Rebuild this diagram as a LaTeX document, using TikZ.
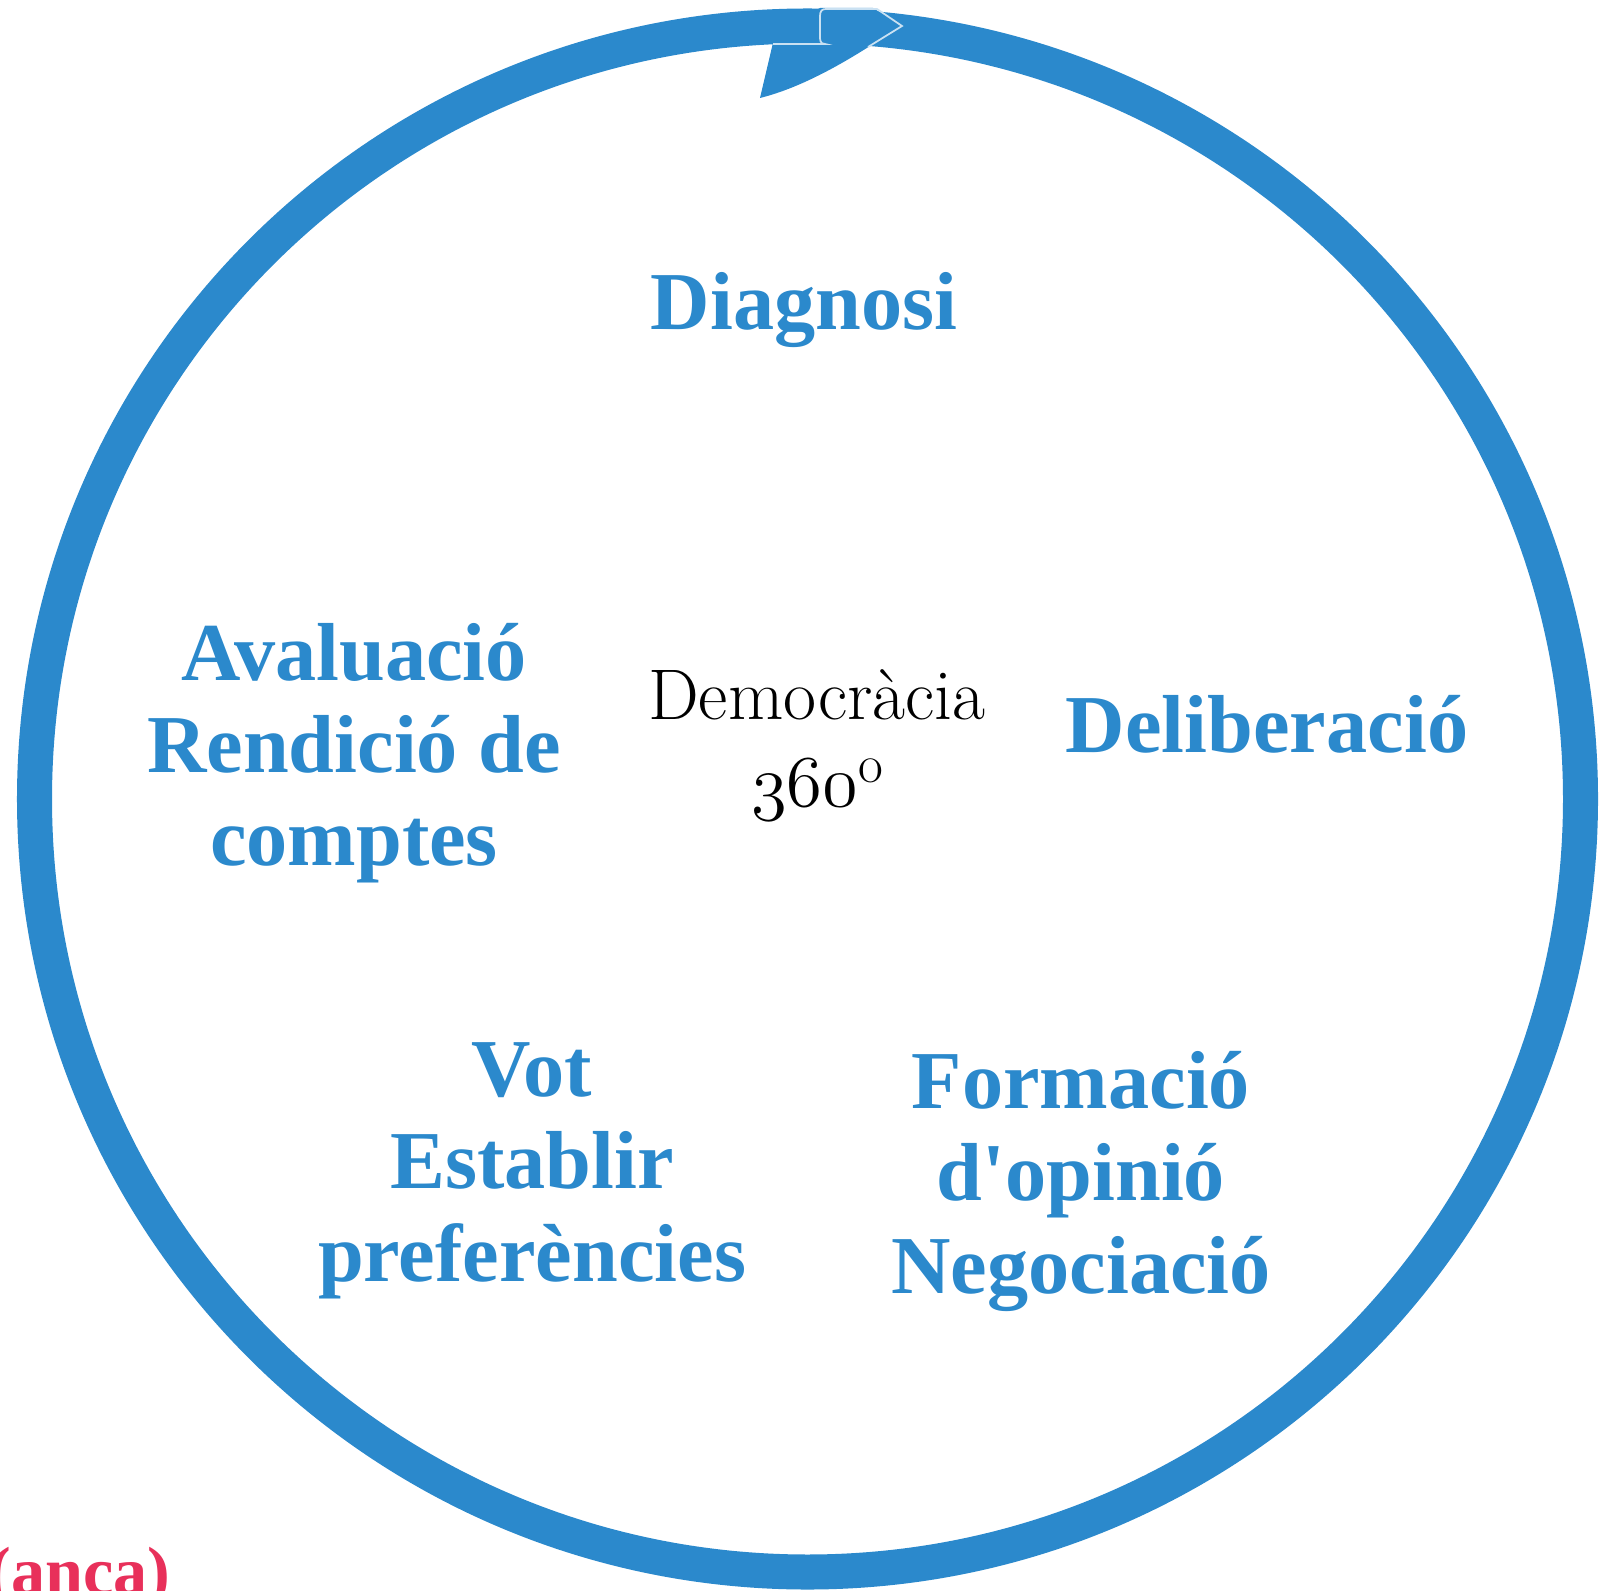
\documentclass[tikz,border=0pt]{standalone}
\usepackage{fontspec}
\newfontfamily\labelfont{Liberation Serif}
\definecolor{ringblue}{RGB}{43,137,204}
\definecolor{noteRed}{RGB}{232,48,90}
\begin{document}
\begin{tikzpicture}[x=0.01cm,y=-0.01cm,
		stage/.style={text=ringblue, font=\labelfont\bfseries\fontsize{23.4}{26.2}\selectfont, align=center, anchor=base, inner sep=0pt},
		centre/.style={text=black, font=\fontsize{20.4}{24.7}\selectfont, align=center, anchor=base, inner sep=0pt},
		edge/.style={draw=white!75!ringblue, line width=0.5pt}]
		\useasboundingbox (0,0) rectangle (1600,1591);

		%% The ring
		\draw[ringblue, line width=0.35cm] (807.5,799) circle[radius=773];

		%% Arrow head at the top
		\fill[ringblue] (776,30) -- (760,98) .. controls (800,88) and (840,65) .. (870,46)
			-- (902,26) -- (873,8) -- (820,8) -- cycle;
		\draw[edge] (773,44) -- (825,44) .. controls (820,44) and (820,40) .. (820,36)
			-- (820,16) .. controls (820,11) and (822,9) .. (826,9) -- (877,9) -- (902,26) -- (868,47);

		%% Stages (anchored at the baseline of the last line)
		\node[stage] (diagnosi) at (804,329) {Diagnosi};
		\node[stage] (deliberacio) at (1267,752) {Deliberació};
		\node[stage] (formacio) at (1081,1293) {Formació\\d'opinió\\Negociació};
		\node[stage] (vot) at (532,1281) {Vot\\Establir\\preferències};
		\node[stage] (avaluacio) at (354,865) {Avaluació\\Rendició de\\comptes};

		%% Centre
		\node[centre] (democracia) at (817,806)
			{Democràcia\\\legacyoldstylenums{360}\raisebox{0.75ex}{\scalebox{0.75}{o}}};

		%% Cut-off note
		\node[text=noteRed, font=\labelfont\bfseries\fontsize{19.4}{23}\selectfont, anchor=base west, inner sep=0pt] (nota) at (-12,1594) {(anca)};
	\end{tikzpicture}
\end{document}
